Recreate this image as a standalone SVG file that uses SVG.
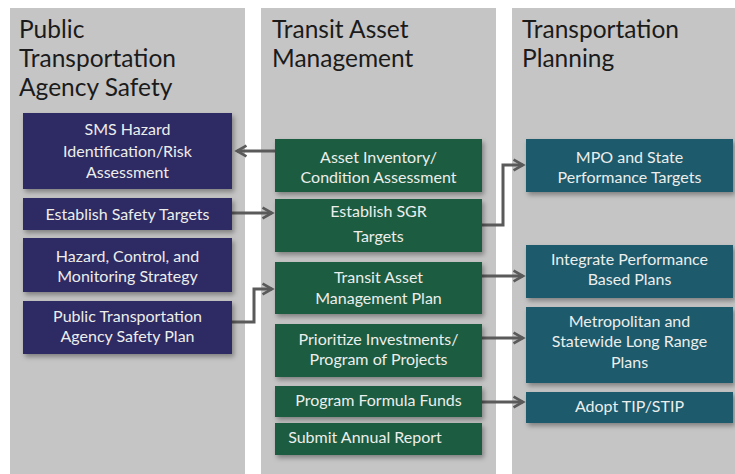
<svg xmlns="http://www.w3.org/2000/svg" width="735" height="474" viewBox="0 0 735 474">
<defs>
<filter id="sh" x="-10%" y="-20%" width="125%" height="150%">
<feDropShadow dx="2" dy="3" stdDeviation="2.5" flood-color="#000" flood-opacity="0.35"/>
</filter>
<marker id="ah" viewBox="0 0 10 10" refX="8" refY="5" markerWidth="4.5" markerHeight="4.5" orient="auto" markerUnits="strokeWidth">
<path d="M1,1 L8,5 L1,9" fill="none" stroke="#5a5a5a" stroke-width="2"/>
</marker>
<style>
.col{fill:#c5c5c5}
.hd{font-family:Lato,"Open Sans","Liberation Sans",sans-serif;font-size:24.5px;fill:#1b1b1b}
.bx{filter:url(#sh)}
.p{fill:#2d2963}
.g{fill:#1f5b40}
.t{fill:#1c5a6c}
.tx{font-family:Lato,"Open Sans","Liberation Sans",sans-serif;font-size:16px;fill:#eceeec;text-anchor:middle}
.cn{fill:none;stroke:#5a5a5a;stroke-width:3;marker-end:url(#ah)}
</style>
</defs>
<rect width="735" height="474" fill="#ffffff"/>
<g id="columns">
<rect class="col" x="10" y="8" width="235" height="466"/>
<rect class="col" x="261" y="8" width="235" height="466"/>
<rect class="col" x="512" y="8" width="223" height="466"/>
<text class="hd" x="19" y="38">Public</text>
<text class="hd" x="19" y="67">Transportation</text>
<text class="hd" x="19" y="96">Agency Safety</text>
<text class="hd" x="272" y="38">Transit Asset</text>
<text class="hd" x="272" y="67">Management</text>
<text class="hd" x="522" y="38">Transportation</text>
<text class="hd" x="522" y="67">Planning</text>
</g>
<g id="connectors">
<path class="cn" d="M275,151 L237,151"/>
<path class="cn" d="M232,213 L272,213"/>
<path class="cn" d="M232,322 L254,322 L254,289 L272,289"/>
<path class="cn" d="M482,225 L503,225 L503,165 L523,165"/>
<path class="cn" d="M482,276 L523,276"/>
<path class="cn" d="M482,338 L523,338"/>
<path class="cn" d="M482,402 L523,402"/>
</g>
<g id="sms"><rect class="bx p" x="23" y="113" width="209" height="76"/>
<text class="tx" x="127.5" y="135">SMS Hazard</text><text class="tx" x="127.5" y="157">Identification/Risk</text><text class="tx" x="127.5" y="178">Assessment</text></g>
<g id="safety-targets"><rect class="bx p" x="23" y="198" width="209" height="32"/>
<text class="tx" x="127.5" y="220">Establish Safety Targets</text></g>
<g id="hazard-control"><rect class="bx p" x="23" y="238" width="209" height="54"/>
<text class="tx" x="127.5" y="262">Hazard, Control, and</text><text class="tx" x="127.5" y="282">Monitoring Strategy</text></g>
<g id="ptasp"><rect class="bx p" x="23" y="301" width="209" height="53"/>
<text class="tx" x="127.5" y="322">Public Transportation</text><text class="tx" x="127.5" y="342">Agency Safety Plan</text></g>
<g id="asset-inventory"><rect class="bx g" x="275" y="139" width="207" height="53"/>
<text class="tx" x="378.5" y="163">Asset Inventory/</text><text class="tx" x="378.5" y="183">Condition Assessment</text></g>
<g id="sgr-targets"><rect class="bx g" x="275" y="199" width="207" height="53"/>
<text class="tx" x="378.5" y="217">Establish SGR</text><text class="tx" x="378.5" y="242">Targets</text></g>
<g id="tam-plan"><rect class="bx g" x="275" y="262" width="207" height="52"/>
<text class="tx" x="378.5" y="283">Transit Asset</text><text class="tx" x="378.5" y="304">Management Plan</text></g>
<g id="prioritize"><rect class="bx g" x="275" y="324" width="207" height="53"/>
<text class="tx" x="378.5" y="345">Prioritize Investments/</text><text class="tx" x="378.5" y="365">Program of Projects</text></g>
<g id="formula-funds"><rect class="bx g" x="275" y="386" width="207" height="31"/>
<text class="tx" x="378.5" y="406">Program Formula Funds</text></g>
<g id="annual-report"><rect class="bx g" x="275" y="423" width="207" height="32"/>
<text class="tx" x="365" y="443">Submit Annual Report</text></g>
<g id="mpo-targets"><rect class="bx t" x="526" y="139" width="207" height="53"/>
<text class="tx" x="629.5" y="163">MPO and State</text><text class="tx" x="629.5" y="183">Performance Targets</text></g>
<g id="integrate"><rect class="bx t" x="526" y="245" width="207" height="53"/>
<text class="tx" x="629.5" y="265">Integrate Performance</text><text class="tx" x="629.5" y="285">Based Plans</text></g>
<g id="long-range"><rect class="bx t" x="526" y="307" width="207" height="76"/>
<text class="tx" x="629.5" y="327">Metropolitan and</text><text class="tx" x="629.5" y="347">Statewide Long Range</text><text class="tx" x="629.5" y="368">Plans</text></g>
<g id="tip-stip"><rect class="bx t" x="526" y="392" width="207" height="31"/>
<text class="tx" x="629.5" y="412">Adopt TIP/STIP</text></g>
</svg>
